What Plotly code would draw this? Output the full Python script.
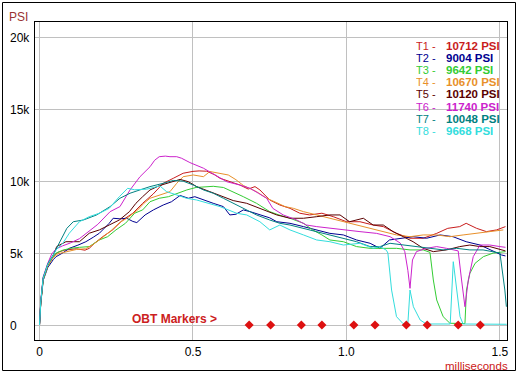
import plotly.graph_objects as go

# ---- data (time in ms, pressure in PSI) ----
names = ["T1", "T2", "T3", "T4", "T5", "T6", "T7", "T8"]
peaks = [10712, 9004, 9642, 10670, 10120, 11740, 10048, 9668]
colors = ["#c81c1c", "#000090", "#33cc33", "#e8902a", "#5a0000", "#cc22cc", "#008080", "#33dddd"]

T1 = [(0, 0), (0.004, 1550), (0.012, 3250), (0.027, 4150), (0.045, 4800), (0.06, 5050), (0.08, 5200),
      (0.10, 5250), (0.12, 5300), (0.148, 5200), (0.162, 5330), (0.18, 5700), (0.206, 6140), (0.238, 6610),
      (0.271, 7300), (0.304, 7770), (0.336, 8460), (0.37, 9100), (0.403, 9850), (0.436, 10200),
      (0.468, 10550), (0.50, 10680), (0.52, 10712), (0.545, 10690), (0.57, 10450), (0.588, 10200),
      (0.62, 9960), (0.653, 9730), (0.68, 9450), (0.702, 9620), (0.718, 9390), (0.75, 8690), (0.783, 8340),
      (0.816, 8110), (0.848, 7770), (0.88, 7650), (0.92, 7770), (0.957, 7530), (1.0, 7180), (1.044, 7180),
      (1.087, 6950), (1.12, 6840), (1.163, 6370), (1.207, 6030), (1.25, 6030), (1.294, 6370), (1.33, 6720),
      (1.369, 6840), (1.39, 7070), (1.424, 6720), (1.456, 6490), (1.489, 6610), (1.518, 6840)]

T2 = [(0, 0), (0.004, 1450), (0.012, 3100), (0.027, 4000), (0.045, 4550), (0.054, 4750), (0.075, 5000),
      (0.097, 5330), (0.125, 5550), (0.151, 5790), (0.175, 6100), (0.195, 6380), (0.227, 7070), (0.24, 7420),
      (0.262, 7380), (0.284, 7420), (0.304, 7200), (0.317, 7120), (0.344, 7650), (0.371, 8000), (0.403, 8340),
      (0.43, 8570), (0.458, 9004), (0.485, 8810), (0.506, 8920), (0.534, 8690), (0.566, 8460), (0.599, 8230),
      (0.62, 7650), (0.64, 7700), (0.664, 8000), (0.686, 7880), (0.718, 7650), (0.75, 7450), (0.773, 7180),
      (0.816, 7070), (0.86, 6840), (0.903, 6610), (0.946, 6370), (0.99, 6260), (1.033, 5910), (1.077, 5680),
      (1.109, 5330), (1.14, 5910), (1.174, 6030), (1.217, 6140), (1.261, 6030), (1.305, 6260), (1.347, 6140),
      (1.39, 5790), (1.435, 5560), (1.467, 5220), (1.505, 4870), (1.518, 4800)]

T3 = [(0, 0), (0.004, 1500), (0.012, 3150), (0.027, 4100), (0.045, 4750), (0.054, 5000), (0.076, 5200),
      (0.10, 5330), (0.13, 5400), (0.162, 5450), (0.195, 5910), (0.222, 6140), (0.249, 6610), (0.28, 7070),
      (0.31, 7770), (0.336, 8000), (0.36, 8570), (0.39, 8810), (0.42, 8920), (0.45, 9160), (0.48, 9390),
      (0.51, 9560), (0.535, 9600), (0.566, 9642), (0.599, 9560), (0.631, 9270), (0.664, 8920), (0.707, 8460),
      (0.75, 7880), (0.78, 7650), (0.816, 7420), (0.86, 7070), (0.89, 6610), (0.92, 6260), (0.946, 5910),
      (0.99, 5790), (1.033, 5450), (1.077, 5330), (1.12, 5330), (1.163, 5330), (1.207, 5220), (1.25, 5220),
      (1.272, 5050), (1.283, 3130), (1.294, 1740), (1.315, 580), (1.337, 120), (1.36, 100), (1.386, 100),
      (1.391, 2430), (1.402, 3590), (1.419, 4290), (1.446, 4750), (1.478, 5000), (1.518, 5100)]

T4 = [(0, 0), (0.004, 1500), (0.012, 3200), (0.027, 4100), (0.045, 4700), (0.06, 4950), (0.08, 5050),
      (0.10, 5150), (0.12, 5250), (0.15, 5300), (0.175, 5600), (0.20, 6000), (0.23, 6500), (0.26, 7100),
      (0.29, 7500), (0.32, 8000), (0.34, 8460), (0.36, 8810), (0.392, 9040), (0.425, 9270), (0.447, 9850),
      (0.468, 10310), (0.501, 10430), (0.534, 10310), (0.555, 10670), (0.588, 10550), (0.615, 10430),
      (0.64, 10100), (0.664, 9700), (0.707, 9270), (0.74, 8810), (0.773, 8500), (0.80, 8230), (0.827, 8110),
      (0.86, 7880), (0.903, 7650), (0.946, 7420), (0.99, 7180), (1.033, 6950), (1.077, 6720), (1.12, 6490),
      (1.163, 6260), (1.207, 6140), (1.25, 6260), (1.294, 6260), (1.337, 6140), (1.38, 6260), (1.424, 6370),
      (1.467, 6490), (1.511, 6610)]

T5 = [(0, 0), (0.004, 1550), (0.012, 3250), (0.027, 4200), (0.045, 4850), (0.056, 5450), (0.086, 5790),
      (0.13, 5790), (0.162, 6380), (0.195, 6610), (0.227, 6950), (0.26, 7300), (0.293, 7880), (0.314, 8460),
      (0.336, 8920), (0.36, 9390), (0.392, 9700), (0.414, 9850), (0.447, 10080), (0.458, 10120), (0.485, 9960),
      (0.512, 9620), (0.555, 9270), (0.599, 8920), (0.631, 8650), (0.675, 8460), (0.718, 8110), (0.773, 7650),
      (0.816, 7420), (0.86, 7420), (0.903, 7530), (0.946, 7650), (0.979, 7650), (1.01, 7180), (1.055, 7420),
      (1.087, 6950), (1.12, 6950), (1.152, 6490), (1.185, 6140), (1.217, 5790), (1.25, 5330), (1.283, 5100),
      (1.326, 5220), (1.369, 5450), (1.402, 5560), (1.435, 5450), (1.467, 5450), (1.505, 5220), (1.518, 5150)]

T6 = [(0, 0), (0.004, 1700), (0.012, 3350), (0.027, 4300), (0.04, 4950), (0.055, 5300), (0.075, 5500),
      (0.10, 5700), (0.13, 6000), (0.16, 6500), (0.19, 7000), (0.23, 7880), (0.262, 8230), (0.295, 9390),
      (0.327, 10300), (0.36, 11000), (0.375, 11450), (0.39, 11700), (0.41, 11740), (0.425, 11700),
      (0.447, 11700), (0.463, 11590), (0.49, 11290), (0.534, 10900), (0.577, 10400), (0.61, 9960),
      (0.653, 9730), (0.686, 9500), (0.713, 9160), (0.74, 8810), (0.76, 8110), (0.794, 7650), (0.838, 7300),
      (0.87, 6950), (0.903, 6840), (0.946, 6720), (1.0, 6610), (1.044, 6490), (1.098, 6370), (1.12, 6260),
      (1.142, 6140), (1.175, 5700), (1.19, 5100), (1.2, 3800), (1.207, 2550), (1.215, 4520), (1.228, 5100),
      (1.26, 5330), (1.294, 5450), (1.326, 5330), (1.364, 5150), (1.375, 3130), (1.386, 1270), (1.397, 3130),
      (1.413, 4750), (1.435, 5560), (1.467, 5560), (1.5, 5450), (1.518, 5400)]

T7 = [(0, 0), (0.004, 1600), (0.012, 3300), (0.027, 4250), (0.045, 4900), (0.06, 5500), (0.075, 6100),
      (0.089, 6720), (0.11, 7180), (0.143, 7300), (0.186, 7650), (0.23, 8230), (0.262, 8810), (0.295, 9160),
      (0.327, 9390), (0.36, 9620), (0.403, 9850), (0.436, 10048), (0.468, 10000), (0.501, 9730),
      (0.534, 9390), (0.566, 9160), (0.599, 8810), (0.631, 8460), (0.675, 8000), (0.707, 7650), (0.75, 7300),
      (0.783, 7070), (0.816, 6950), (0.86, 6720), (0.903, 6490), (0.946, 6260), (0.99, 6030), (1.033, 5790),
      (1.077, 5450), (1.109, 5450), (1.142, 5680), (1.185, 5560), (1.228, 5450), (1.272, 5330), (1.315, 5220),
      (1.359, 5330), (1.402, 5220), (1.445, 5220), (1.478, 5100), (1.5, 5000), (1.516, 2430), (1.521, 1270)]

T8 = [(0, 0), (0.004, 1600), (0.012, 3250), (0.027, 4200), (0.045, 4850), (0.054, 5220), (0.076, 5680),
      (0.097, 6380), (0.13, 7180), (0.162, 7530), (0.195, 7770), (0.227, 8110), (0.26, 8920), (0.287, 9500),
      (0.31, 9400), (0.349, 9440), (0.392, 9668), (0.414, 9270), (0.447, 9040), (0.479, 8810), (0.512, 8690),
      (0.555, 8460), (0.588, 8230), (0.642, 7770), (0.675, 7650), (0.718, 7180), (0.75, 6610), (0.783, 6950),
      (0.816, 6610), (0.86, 6260), (0.903, 5910), (0.946, 5790), (0.99, 5560), (1.044, 5680), (1.087, 5330),
      (1.109, 5450), (1.13, 5200), (1.135, 5000), (1.147, 2430), (1.163, 580), (1.184, 100), (1.2, 100),
      (1.207, 2430), (1.218, 1270), (1.24, 350), (1.26, 70), (1.30, 50), (1.338, 70), (1.348, 4400),
      (1.359, 2430), (1.37, 580), (1.38, 70), (1.45, 50), (1.522, 50)]

traces = [T1, T2, T3, T4, T5, T6, T7, T8]

obt_markers = [0.683, 0.753, 0.853, 0.920, 1.024, 1.093, 1.195, 1.263, 1.364, 1.436]

x_ticks = [0, 0.5, 1.0, 1.5]
x_ticktext = ["0", "0.5", "1.0", "1.5"]
y_ticks = [0, 5000, 10000, 15000, 20000]
y_ticktext = ["0", "5k", "10k", "15k", "20k"]

FONT = "Liberation Sans, Arial, sans-serif"

fig = go.Figure()
for name, pts, col in zip(names, traces, colors):
    fig.add_trace(go.Scatter(x=[p[0] for p in pts], y=[p[1] for p in pts], mode="lines",
                             line=dict(color=col, width=1), name=name, showlegend=False))

fig.add_trace(go.Scatter(x=obt_markers, y=[0] * len(obt_markers), mode="markers",
                         marker=dict(symbol="diamond", size=7, color="#dd1111"), showlegend=False))

W, H = 518, 373
L, R, T, B = 35, 11, 22, 33
pw, ph = W - L - R, H - T - B


def px(x):
    return (x - L) / pw


def py(y):
    return (H - B - y) / ph


fig.update_layout(
    width=W, height=H, margin=dict(l=L, r=R, t=T, b=B, pad=0),
    paper_bgcolor="white", plot_bgcolor="white",
    font=dict(family=FONT, size=12, color="black"),
    xaxis=dict(range=[-0.0147, 1.523], tickvals=x_ticks, ticktext=x_ticktext, automargin=False,
               showgrid=True, gridcolor="#c0c0c0", gridwidth=1, zeroline=False,
               showline=True, linecolor="black", linewidth=1, mirror=True, ticks="", ticklabelstandoff=1),
    yaxis=dict(range=[-1043, 21064], tickvals=y_ticks, showticklabels=False, automargin=False,
               showgrid=True, gridcolor="#c0c0c0", gridwidth=1, zeroline=False,
               showline=True, linecolor="black", linewidth=1, mirror=True, ticks=""),
)

# outer frame
fig.add_shape(type="rect", xref="paper", yref="paper", x0=px(2.5), x1=px(515.5), y0=py(370.5), y1=py(2.5),
              line=dict(color="black", width=1), fillcolor="rgba(0,0,0,0)", layer="below")

ann = []
# left-aligned y-axis tick labels, placed on the y axis scale
for v, t in zip(y_ticks, y_ticktext):
    ann.append(dict(text=t, x=px(9), y=v, yref="y", xanchor="left", yanchor="middle",
                    font=dict(size=12, color="black")))
ann.append(dict(text="PSI", x=px(8), y=py(16), xanchor="left", yanchor="middle",
                font=dict(size=12, color="#993333")))
ann.append(dict(text="milliseconds", x=px(509), y=py(365.5), xanchor="right", yanchor="middle",
                font=dict(size=11.5, color="#cc2020")))
ann.append(dict(text="<b>OBT Markers ></b>", x=px(218), y=py(318), xanchor="right", yanchor="middle",
                font=dict(size=12, color="#cc2020")))
for i, (name, pk, col) in enumerate(zip(names, peaks, colors)):
    yy = 45 + 12.2 * i
    ann.append(dict(text=f"{name} -", x=px(415), y=py(yy), xanchor="left", yanchor="middle",
                    font=dict(size=11, color=col)))
    ann.append(dict(text=f"<b>{pk} PSI</b>", x=px(445), y=py(yy), xanchor="left", yanchor="middle",
                    font=dict(size=11.5, color=col)))
for a in ann:
    a.setdefault("yref", "paper")
    a.update(xref="paper", showarrow=False, height=11, borderpad=0)
    fig.add_annotation(**a)

fig.write_html("out.html", config={"displayModeBar": False, "staticPlot": True})

# remove default page margin so the figure sits at the window's top-left corner
with open("out.html", "r", encoding="utf-8") as f:
    html = f.read()
html = html.replace("<head>", "<head><style>html,body{margin:0;padding:0;overflow:hidden;}</style>", 1)
with open("out.html", "w", encoding="utf-8") as f:
    f.write(html)
